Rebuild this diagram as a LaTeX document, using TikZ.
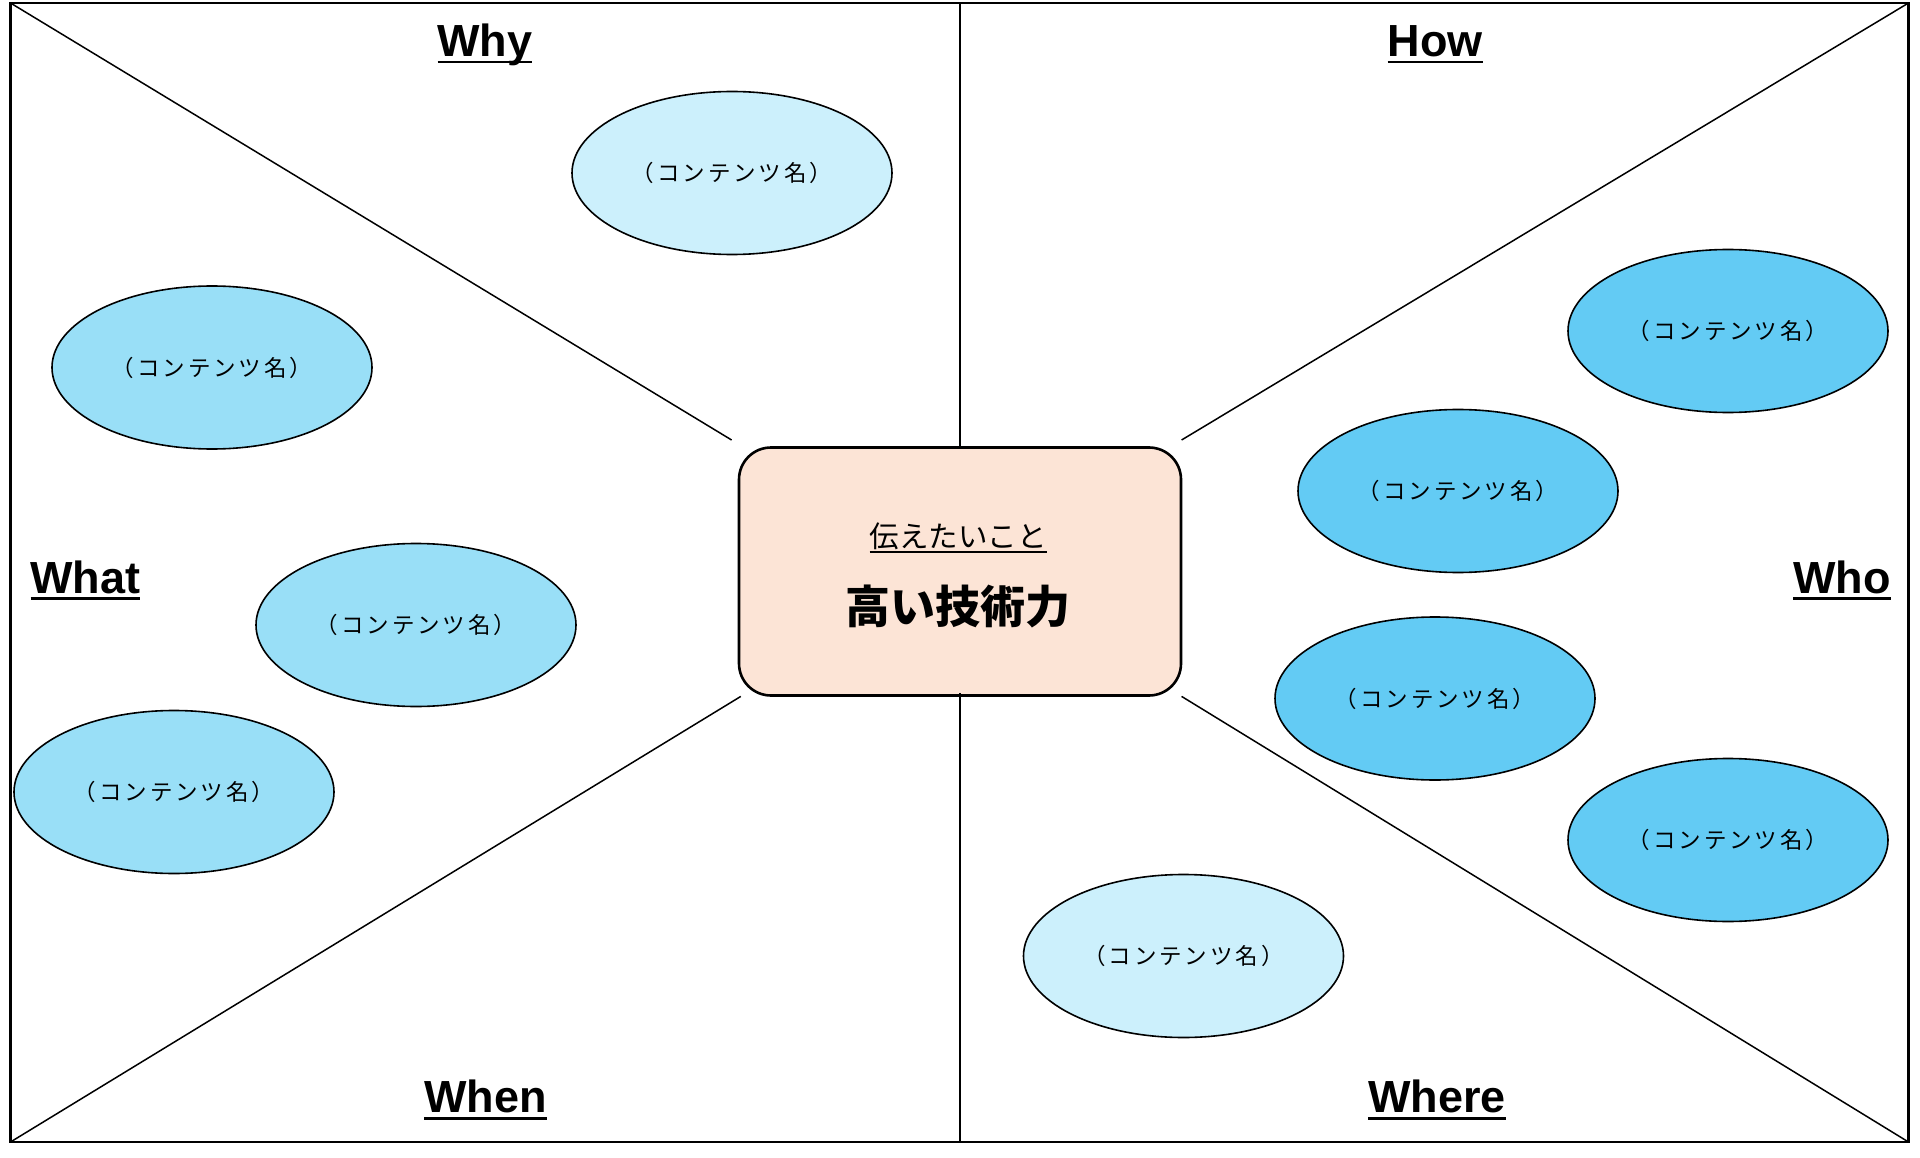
\documentclass[tikz,border=0pt]{standalone}
\usepackage{fontspec}
\setmainfont{Liberation Sans}
\newfontfamily\jp{Noto Sans CJK JP}
\newfontfamily\jpwide{Noto Sans CJK JP}[LetterSpace=13]
\usetikzlibrary{shapes.geometric}
\definecolor{elight}{RGB}{204,240,252}
\definecolor{emid}{RGB}{153,223,247}
\definecolor{edark}{RGB}{99,203,244}
\definecolor{boxfill}{RGB}{252,228,214}
\newcommand\ulin[3]{\setbox0=\hbox{#3}\rlap{\rule[-#1]{\wd0}{#2}}\box0}
\tikzset{
  frameline/.style={line width=2.2pt, draw=black},
  divline/.style={line width=1.5pt, draw=black},
  content/.style={ellipse, draw=black, line width=1.6pt, minimum width=320pt, minimum height=163pt, inner sep=0pt,
    font=\jpwide\fontsize{22.5}{26}\selectfont},
  clight/.style={content, fill=elight},
  cmid/.style={content, fill=emid},
  cdark/.style={content, fill=edark},
  wlabel/.style={anchor=base, inner sep=0pt, font=\fontsize{45}{52}\selectfont\bfseries},
  centerbox/.style={draw=black, line width=2.6pt, fill=boxfill, rounded corners=32pt,
    minimum width=442pt, minimum height=248pt, inner sep=0pt}
}
\begin{document}
\begin{tikzpicture}[x=1pt,y=-1pt]
\useasboundingbox (0,0) rectangle (1920,1158);
% frame corners
\coordinate (TL) at (10.5,3);
\coordinate (TR) at (1908.5,3);
\coordinate (BL) at (10.5,1142);
\coordinate (BR) at (1908.5,1142);
\coordinate (TM) at (960,3);
\coordinate (BM) at (960,1142);
% diagonal ends
\coordinate (dTL) at (731.6,440);
\coordinate (dTR) at (1181.6,440);
\coordinate (dBL) at (740.8,696.4);
\coordinate (dBR) at (1181.6,696.4);

\draw[frameline] (TL) -- (TR) -- (BR) -- (BL) -- cycle;

\node[centerbox] (core) at (960,571.5) {};

\draw[divline] (TM) -- ([yshift=-3pt]core.north);
\draw[divline] ([yshift=4pt]core.south) -- (BM);
\draw[divline] (TL) -- (dTL);
\draw[divline] (TR) -- (dTR);
\draw[divline] (BL) -- (dBL);
\draw[divline] (BR) -- (dBR);

\node[anchor=base, inner sep=0pt, font=\jp\fontsize{29.5}{34}\selectfont] (msg) at (958,547) {\ulin{6pt}{2pt}{伝えたいこと}};
\node[anchor=base, inner sep=0pt, font=\jp\fontsize{45}{52}\selectfont\bfseries] (theme) at (958,623) {高い技術力};

% labels
\node[wlabel] (why) at (485,57) {\ulin{6.5pt}{2.6pt}{Why}};
\node[wlabel] (how) at (1435,57) {\ulin{6.5pt}{2.6pt}{How}};
\node[wlabel] (what) at (85.5,593) {\ulin{6.5pt}{2.6pt}{What}};
\node[wlabel] (who) at (1842,593) {\ulin{6.5pt}{2.6pt}{Who}};
\node[wlabel] (when) at (485.5,1112) {\ulin{7.5pt}{2.6pt}{When}};
\node[wlabel] (where) at (1437,1112) {\ulin{7.5pt}{2.6pt}{Where}};

% contents
\node[clight] (c1) at (732,173) {（コンテンツ名）};
\node[cmid] (c2) at (212,367.5) {（コンテンツ名）};
\node[cmid] (c3) at (416,625) {（コンテンツ名）};
\node[cmid] (c4) at (174,792) {（コンテンツ名）};
\node[cdark] (c5) at (1728,331) {（コンテンツ名）};
\node[cdark] (c6) at (1458,491) {（コンテンツ名）};
\node[cdark] (c7) at (1435,698.5) {（コンテンツ名）};
\node[cdark] (c8) at (1728,840) {（コンテンツ名）};
\node[clight] (c9) at (1183.5,956) {（コンテンツ名）};
\end{tikzpicture}
\end{document}
